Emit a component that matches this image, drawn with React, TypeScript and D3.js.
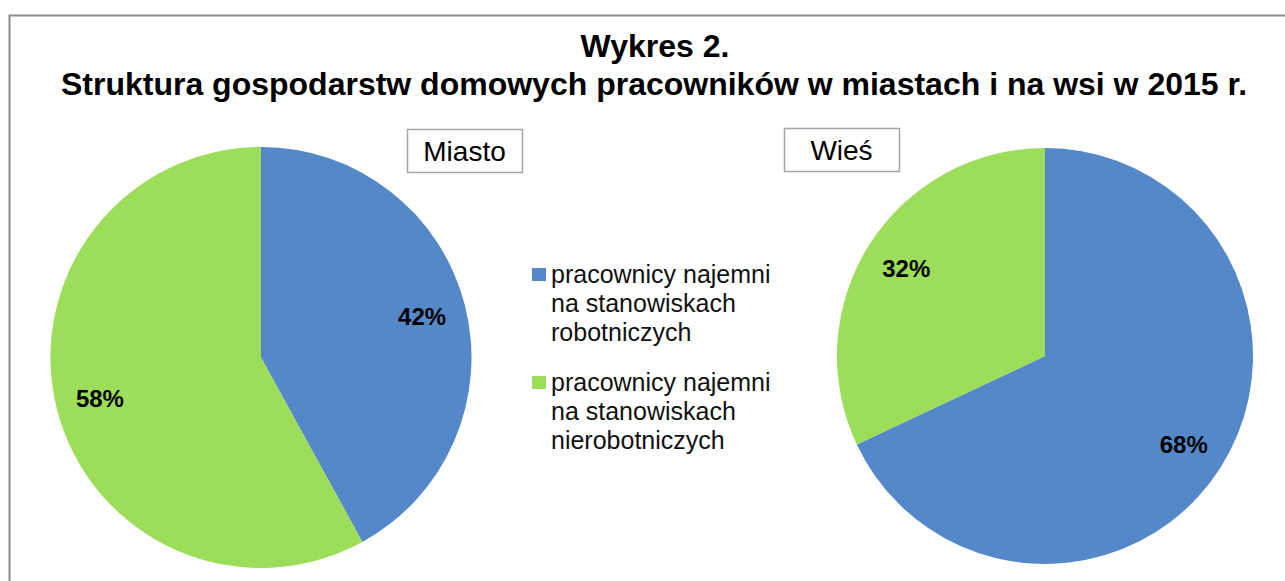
import * as d3 from "d3";
import React, { useEffect, useRef } from "react";

// categories and values
const categories = [
  "pracownicy najemni na stanowiskach robotniczych",
  "pracownicy najemni na stanowiskach nierobotniczych",
];
const legendLines = [
  ["pracownicy najemni", "na stanowiskach", "robotniczych"],
  ["pracownicy najemni", "na stanowiskach", "nierobotniczych"],
];
const colors = ["#5588C9", "#9CDD59"];
const pies = ["Miasto", "Wieś"];
const miastoValues = [42, 58];
const wiesValues = [68, 32];

const App: React.FC = () => {
  const ref = useRef<SVGSVGElement>(null);

  useEffect(() => {
    if (!ref.current) return;
    const svg = d3.select(ref.current);
    svg.selectAll("*").remove();

    const width = 1285,
      height = 581;
    const font = "'Liberation Sans', Arial, sans-serif";

    // outer frame
    svg
      .append("rect")
      .attr("x", 9.5)
      .attr("y", 15.5)
      .attr("width", width + 10)
      .attr("height", height + 10)
      .attr("fill", "white")
      .attr("stroke", "#8c8c8c")
      .attr("stroke-width", 2);

    // title
    const title = svg
      .append("text")
      .attr("text-anchor", "middle")
      .style("font-family", font)
      .style("font-weight", "bold")
      .style("font-size", "32px")
      .attr("fill", "black");
    title.append("tspan").attr("x", 655).attr("y", 57).text("Wykres 2.");
    title
      .append("tspan")
      .attr("x", 654)
      .attr("y", 95)
      .text("Struktura gospodarstw domowych pracowników w miastach i na wsi w 2015 r.");

    const pie = d3
      .pie<number>()
      .sort(null)
      .value((d) => d);

    const setups = [
      { name: pies[0], values: miastoValues, cx: 261, cy: 357.5, r: 210.5, box: { x: 407, y: 129, w: 115, h: 43 } },
      { name: pies[1], values: wiesValues, cx: 1045, cy: 356, r: 208, box: { x: 784, y: 128, w: 115, h: 43 } },
    ];

    setups.forEach((s) => {
      const g = svg.append("g").attr("transform", `translate(${s.cx},${s.cy})`);
      const arc = d3.arc<d3.PieArcDatum<number>>().innerRadius(0).outerRadius(s.r);
      const labelArc = d3
        .arc<d3.PieArcDatum<number>>()
        .innerRadius(s.r * 0.79)
        .outerRadius(s.r * 0.79);
      const arcs = pie(s.values);

      g.selectAll("path")
        .data(arcs)
        .enter()
        .append("path")
        .attr("d", arc)
        .attr("fill", (_, i) => colors[i]);

      g.selectAll(".lbl")
        .data(arcs)
        .enter()
        .append("text")
        .attr("class", "lbl")
        .attr("transform", (d) => `translate(${labelArc.centroid(d)})`)
        .attr("text-anchor", "middle")
        .attr("dy", "0.36em")
        .style("font-family", font)
        .style("font-weight", "bold")
        .style("font-size", "24px")
        .text((d) => `${d.data}%`);

      // subtitle box
      svg
        .append("rect")
        .attr("x", s.box.x + 0.5)
        .attr("y", s.box.y + 0.5)
        .attr("width", s.box.w)
        .attr("height", s.box.h)
        .attr("fill", "white")
        .attr("stroke", "#a6a6a6")
        .attr("stroke-width", 1.5);
      svg
        .append("text")
        .attr("x", s.box.x + s.box.w / 2)
        .attr("y", s.box.y + s.box.h / 2)
        .attr("dy", "0.36em")
        .attr("text-anchor", "middle")
        .style("font-family", font)
        .style("font-size", "28px")
        .text(s.name);
    });

    // legend
    const legend = svg.append("g");
    categories.forEach((_, i) => {
      const y0 = 268 + i * 108;
      legend
        .append("rect")
        .attr("x", 532)
        .attr("y", y0)
        .attr("width", 14)
        .attr("height", 13)
        .attr("fill", colors[i]);
      const t = legend
        .append("text")
        .style("font-family", font)
        .style("font-size", "25px")
        .attr("fill", "#111");
      legendLines[i].forEach((line, j) => {
        t.append("tspan").attr("x", 551).attr("y", y0 + 15 + j * 29).text(line);
      });
    });
  }, []);

  return (
    <svg
      ref={ref}
      width={1285}
      height={581}
      style={{ position: "absolute", left: 0, top: 0, background: "white" }}
    />
  );
};

export default App;
